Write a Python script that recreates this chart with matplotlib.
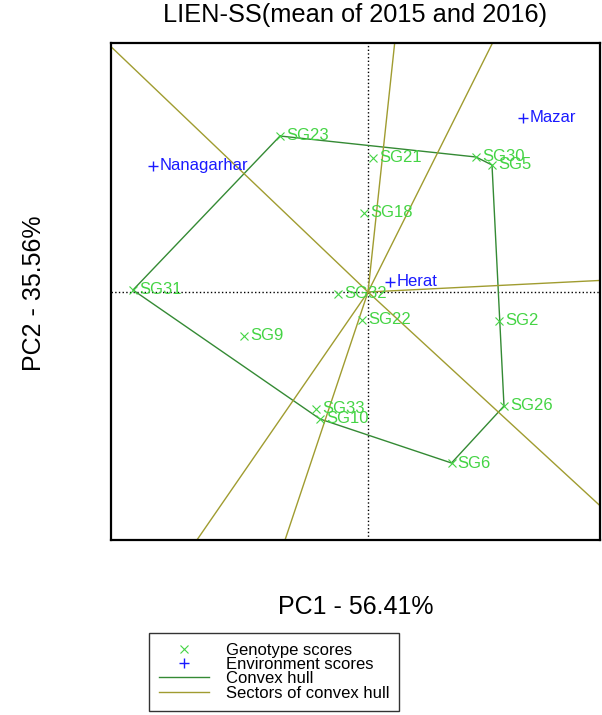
import numpy as np
import matplotlib
matplotlib.use('Agg')
import matplotlib.pyplot as plt
from matplotlib.lines import Line2D

plt.rcParams['font.family'] = ['Liberation Sans', 'DejaVu Sans']

# Genotype scores (PC1, PC2)
genotypes = ['SG23', 'SG21', 'SG30', 'SG5', 'SG18', 'SG31', 'SG32', 'SG22',
             'SG2', 'SG9', 'SG33', 'SG10', 'SG26', 'SG6']
gen_pc1 = [-0.88, 0.05, 1.08, 1.24, -0.04, -2.35, -0.30, -0.06,
           1.31, -1.24, -0.52, -0.48, 1.36, 0.835]
gen_pc2 = [1.56, 1.34, 1.35, 1.27, 0.79, 0.02, -0.02, -0.28,
           -0.29, -0.44, -1.17, -1.27, -1.14, -1.71]

# Environment scores
environments = ['Mazar', 'Nanagarhar', 'Herat']
env_pc1 = [1.55, -2.15, 0.22]
env_pc2 = [1.74, 1.26, 0.10]

# genotypes on the convex hull, in order
hull_order = ['SG23', 'SG30', 'SG5', 'SG26', 'SG6', 'SG10', 'SG31']

green_pt = '#44d444'
hull_col = '#348a34'
sector_col = '#a09c30'
blue = '#1a1aff'

fig = plt.figure(figsize=(6.02, 7.15), dpi=100)
ax = fig.add_axes([111/602, 1 - 540/715, 489/602, 497/715])

ax.set_xlim(-2.57, 2.32)
ax.set_ylim(-2.48, 2.49)

# axes through origin
ax.axhline(0, color='black', linestyle=':', linewidth=1)
ax.axvline(0, color='black', linestyle=':', linewidth=1)

# convex hull
gx = dict(zip(genotypes, gen_pc1))
gy = dict(zip(genotypes, gen_pc2))
hx = [gx[g] for g in hull_order] + [gx[hull_order[0]]]
hy = [gy[g] for g in hull_order] + [gy[hull_order[0]]]
ax.plot(hx, hy, color=hull_col, linewidth=1)

# sector rays, perpendicular to each hull edge
for i in range(len(hull_order)):
    p1 = np.array([hx[i], hy[i]])
    p2 = np.array([hx[i + 1], hy[i + 1]])
    d = p2 - p1
    t = -p1.dot(d) / d.dot(d)
    foot = p1 + t * d
    foot = foot / np.linalg.norm(foot) * 10
    ax.plot([0, foot[0]], [0, foot[1]], color=sector_col, linewidth=1)

# genotype points and labels
ax.plot(gen_pc1, gen_pc2, linestyle='none', marker='x', color=green_pt,
        markersize=6, markeredgewidth=0.8)
for name, x, y in zip(genotypes, gen_pc1, gen_pc2):
    ax.annotate(name, (x, y), xytext=(4.5, 0), textcoords='offset points',
                va='center', ha='left', color=green_pt, fontsize=12)

# environment points and labels
ax.plot(env_pc1, env_pc2, linestyle='none', marker='+', color=blue,
        markersize=7, markeredgewidth=1)
for name, x, y in zip(environments, env_pc1, env_pc2):
    ax.annotate(name, (x, y), xytext=(4.5, 0), textcoords='offset points',
                va='center', ha='left', color=blue, fontsize=12)

ax.set_xticks([])
ax.set_yticks([])
for s in ax.spines.values():
    s.set_linewidth(1.6)

ax.set_title('LIEN-SS(mean of 2015 and 2016)', fontsize=18.3, pad=15)
ax.set_xlabel('PC1 - 56.41%', fontsize=18)
ax.xaxis.set_label_coords(0.5, -0.135)
ax.xaxis.label.set_va('center')
ax.set_ylabel('PC2 - 35.56%', fontsize=18)
ax.yaxis.set_label_coords(-0.158, 0.497)
ax.yaxis.label.set_va('center')

handles = [
    Line2D([], [], linestyle='none', marker='x', color=green_pt, markersize=6, markeredgewidth=0.8),
    Line2D([], [], linestyle='none', marker='+', color=blue, markersize=7, markeredgewidth=1),
    Line2D([], [], color=hull_col, linewidth=1),
    Line2D([], [], color=sector_col, linewidth=1),
]
labels = ['Genotype scores', 'Environment scores', 'Convex hull', 'Sectors of convex hull']
leg = fig.legend(handles, labels, loc='upper left', bbox_to_anchor=(149/602, 1 - 633/715),
                 fontsize=12, frameon=True, fancybox=False, edgecolor='black',
                 handlelength=3.0, handletextpad=1.0, labelspacing=-0.05,
                 borderpad=0.6, borderaxespad=0)
leg.get_frame().set_linewidth(1)

fig.savefig('out.png', dpi=100)
